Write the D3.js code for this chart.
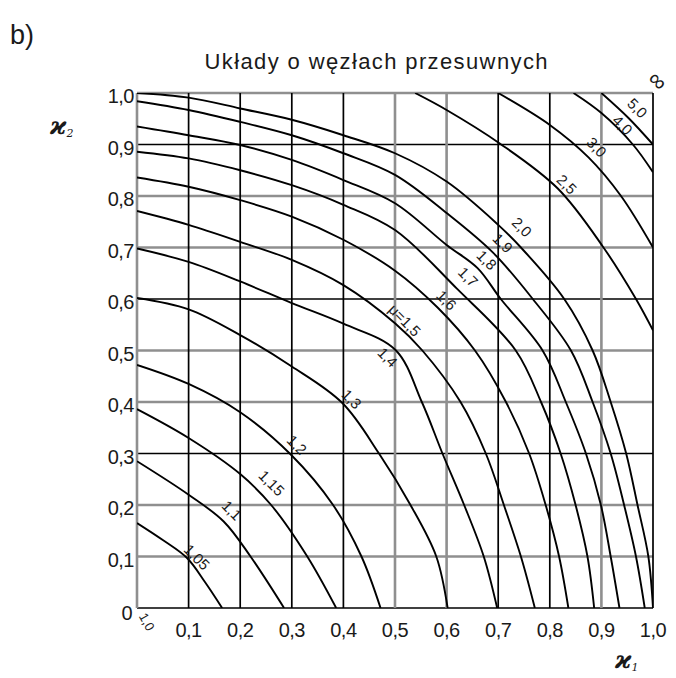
<!DOCTYPE html>
<html>
<head>
<meta charset="utf-8">
<script src="https://cdn.jsdelivr.net/npm/d3@7"></script>
<style>
  body { margin: 0; background: #fff; }
  svg text { font-family: "Liberation Sans", Arial, sans-serif; fill: #1a1a1a; }
</style>
</head>
<body>
<div id="chart"></div>
<script>
// grid / tick values
const gridValues = [0, 0.1, 0.2, 0.3, 0.4, 0.5, 0.6, 0.7, 0.8, 0.9, 1.0];
const yTickLabels = ["0", "0,1", "0,2", "0,3", "0,4", "0,5", "0,6", "0,7", "0,8", "0,9", "1,0"];
const xTickLabels = ["", "0,1", "0,2", "0,3", "0,4", "0,5", "0,6", "0,7", "0,8", "0,9", "1,0"];

// curves of constant mu as [kappa1, kappa2]
const mu105 = [[0, 0.165], [0.05, 0.132], [0.097, 0.097], [0.132, 0.05], [0.165, 0]];
const mu110 = [[0, 0.285], [0.1, 0.22], [0.168, 0.168], [0.22, 0.1], [0.285, 0]];
const mu115 = [[0, 0.386], [0.1, 0.33], [0.2, 0.26], [0.26, 0.2], [0.33, 0.1], [0.386, 0]];
const mu120 = [[0, 0.472], [0.1, 0.435], [0.2, 0.38], [0.298, 0.298], [0.38, 0.2], [0.435, 0.1], [0.472, 0]];
const mu130 = [[0, 0.602], [0.1, 0.58], [0.2, 0.53], [0.3, 0.469], [0.398, 0.398], [0.469, 0.3], [0.53, 0.2], [0.58, 0.1], [0.602, 0]];
const mu140 = [[0, 0.698], [0.1, 0.672], [0.2, 0.634], [0.3, 0.592], [0.4, 0.552], [0.501, 0.501], [0.552, 0.4], [0.592, 0.3], [0.634, 0.2], [0.672, 0.1], [0.698, 0]];
const mu150 = [[0, 0.771], [0.1, 0.744], [0.2, 0.711], [0.3, 0.676], [0.4, 0.627], [0.5, 0.553], [0.553, 0.5], [0.627, 0.4], [0.676, 0.3], [0.711, 0.2], [0.744, 0.1], [0.771, 0]];
const mu160 = [[0, 0.836], [0.1, 0.818], [0.2, 0.792], [0.3, 0.76], [0.4, 0.715], [0.5, 0.655], [0.583, 0.583], [0.655, 0.5], [0.715, 0.4], [0.76, 0.3], [0.792, 0.2], [0.818, 0.1], [0.836, 0]];
const mu170 = [[0, 0.886], [0.1, 0.873], [0.2, 0.85], [0.3, 0.821], [0.4, 0.783], [0.5, 0.734], [0.62, 0.62], [0.734, 0.5], [0.783, 0.4], [0.821, 0.3], [0.85, 0.2], [0.873, 0.1], [0.886, 0]];
const mu180 = [[0, 0.935], [0.1, 0.918], [0.2, 0.899], [0.3, 0.87], [0.4, 0.831], [0.5, 0.786], [0.6, 0.705], [0.66, 0.66], [0.705, 0.6], [0.786, 0.5], [0.831, 0.4], [0.87, 0.3], [0.899, 0.2], [0.918, 0.1], [0.935, 0]];
const mu190 = [[0, 0.984], [0.1, 0.967], [0.2, 0.944], [0.3, 0.918], [0.4, 0.883], [0.5, 0.841], [0.6, 0.767], [0.69, 0.69], [0.767, 0.6], [0.841, 0.5], [0.883, 0.4], [0.918, 0.3], [0.944, 0.2], [0.967, 0.1], [0.984, 0]];
const mu200 = [[0, 1], [0.1, 0.991], [0.2, 0.97], [0.3, 0.948], [0.4, 0.918], [0.5, 0.883], [0.6, 0.828], [0.7, 0.744], [0.744, 0.7], [0.828, 0.6], [0.883, 0.5], [0.918, 0.4], [0.948, 0.3], [0.97, 0.2], [0.991, 0.1], [1, 0]];
const mu250 = [[0.539, 1], [0.6, 0.967], [0.703, 0.902], [0.815, 0.815], [0.902, 0.703], [0.967, 0.6], [1, 0.539]];
const mu300 = [[0.7, 1], [0.8, 0.938], [0.875, 0.875], [0.938, 0.8], [1, 0.7]];
const mu400 = [[0.846, 1], [0.9, 0.961], [0.961, 0.9], [1, 0.846]];
const mu500 = [[0.9, 1], [0.952, 0.952], [1, 0.9]];

const curves = [mu105, mu110, mu115, mu120, mu130, mu140, mu150, mu160, mu170, mu180, mu190, mu200, mu250, mu300, mu400, mu500];

// curve labels and where they sit, in [kappa1, kappa2]
const labelTexts = ["1,0", "1,05", "1,1", "1,15", "1,2", "1,3", "1,4", "μ=1,5", "1,6", "1,7", "1,8", "1,9", "2,0", "2,5", "3,0", "4,0", "5,0", "∞"];
const labelAt = [[0.019, -0.027], [0.116, 0.099], [0.184, 0.19], [0.261, 0.243], [0.31, 0.317], [0.416, 0.406], [0.486, 0.487], [0.519, 0.559],
  [0.6, 0.598], [0.642, 0.643], [0.678, 0.676], [0.709, 0.709], [0.746, 0.74], [0.833, 0.823], [0.891, 0.895], [0.941, 0.938], [0.97, 0.971], [1.01, 1.024]];

const width = 676, height = 678;
const x = d3.scaleLinear().domain([0, 1]).range([137, 653]);
const y = d3.scaleLinear().domain([0, 1]).range([608, 93]);

// which grid lines print grey in the scan
const greyRows = [0.1, 0.2, 0.4, 0.5, 0.7, 0.8, 1.0];
const greyCols = [0, 0.5, 0.6, 0.9];
const isGrey = (list, v) => list.some(g => Math.abs(g - v) < 1e-6);

const svg = d3.select("#chart").append("svg").attr("width", width).attr("height", height);

svg.append("defs").append("clipPath").attr("id", "plot")
  .append("rect").attr("x", x(0)).attr("y", y(1)).attr("width", x(1) - x(0)).attr("height", y(0) - y(1));

const grid = svg.append("g");
grid.selectAll(".hline").data(gridValues).enter().append("line")
  .attr("x1", x(0)).attr("x2", x(1))
  .attr("y1", d => y(d)).attr("y2", d => y(d))
  .attr("stroke", d => isGrey(greyRows, d) ? "#8f8f8f" : "#000")
  .attr("stroke-width", d => isGrey(greyRows, d) ? 2.6 : 1.7);
grid.selectAll(".vline").data(gridValues).enter().append("line")
  .attr("y1", y(0)).attr("y2", y(1))
  .attr("x1", d => x(d)).attr("x2", d => x(d))
  .attr("stroke", d => isGrey(greyCols, d) ? "#8f8f8f" : "#000")
  .attr("stroke-width", d => isGrey(greyCols, d) ? 2.6 : 1.7);

const line = d3.line().x(d => x(d[0])).y(d => y(d[1])).curve(d3.curveCatmullRom.alpha(0.5));
svg.append("g").attr("clip-path", "url(#plot)")
  .selectAll("path").data(curves).enter().append("path")
  .attr("d", line).attr("fill", "none").attr("stroke", "#000").attr("stroke-width", 1.9);

// tick labels
svg.append("g").selectAll("text").data(gridValues).enter().append("text")
  .attr("x", d => d === 0 ? 132 : 134).attr("y", d => y(d) + (d === 0 ? 12 : 10))
  .attr("text-anchor", "end").attr("font-size", 20).attr("letter-spacing", -0.5)
  .text((d, i) => yTickLabels[i]);
svg.append("g").selectAll("text").data(gridValues).enter().append("text")
  .attr("x", d => x(d)).attr("y", 637)
  .attr("text-anchor", "middle").attr("font-size", 20).attr("letter-spacing", -0.5)
  .text((d, i) => xTickLabels[i]);

// curve labels
svg.append("g").selectAll("text").data(labelTexts).enter().append("text")
  .attr("transform", (d, i) => {
    let a = i === 0 ? 60 : 45;
    return "translate(" + x(labelAt[i][0]) + "," + y(labelAt[i][1]) + ") rotate(" + a + ")";
  })
  .attr("text-anchor", "middle").attr("dominant-baseline", "central")
  .attr("font-size", (d, i) => d === "∞" ? 24 : (i === 0 ? 13 : 15))
  .text(d => d);

// titles
svg.append("text").attr("x", 10).attr("y", 44).attr("font-size", 27).text("b)");
svg.append("text").attr("x", 376).attr("y", 69).attr("text-anchor", "middle")
  .attr("font-size", 22).attr("textLength", 343).attr("lengthAdjust", "spacing")
  .text("Układy o węzłach przesuwnych");

const k2 = svg.append("text").attr("x", 50).attr("y", 134)
  .style("font-family", "'DejaVu Serif', serif").attr("font-style", "italic").attr("font-weight", "bold").attr("font-size", 25);
k2.append("tspan").text("ϰ");
k2.append("tspan").attr("font-size", 11).attr("dy", 3).attr("font-weight", "normal").text("2");

const k1 = svg.append("text").attr("x", 615).attr("y", 668)
  .style("font-family", "'DejaVu Serif', serif").attr("font-style", "italic").attr("font-weight", "bold").attr("font-size", 25);
k1.append("tspan").text("ϰ");
k1.append("tspan").attr("font-size", 11).attr("dy", 3).attr("font-weight", "normal").text("1");
</script>
</body>
</html>
